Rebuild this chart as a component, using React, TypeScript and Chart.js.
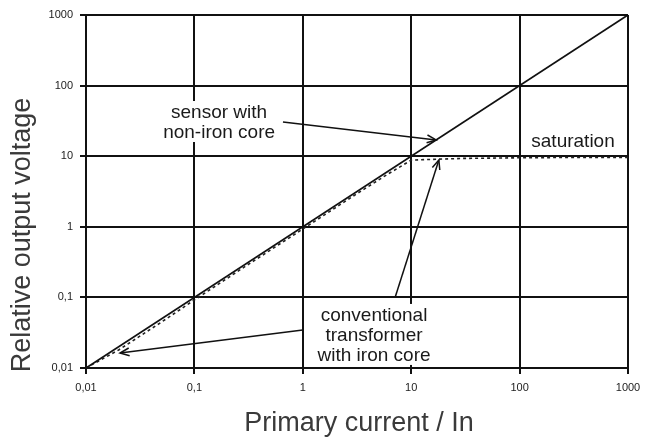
import React, { useEffect, useRef } from "react";
import { Chart, registerables } from "chart.js";

Chart.register(...registerables);

// ---- data ----
const tickValues = [0.01, 0.1, 1, 10, 100, 1000];
const tickLabels = ["0,01", "0,1", "1", "10", "100", "1000"];

const sensorX = [0.01, 1000];
const sensorY = [0.01, 1000];

const convX = [0.01, 0.02, 0.05, 0.1, 0.3, 1, 3, 6, 10, 15, 30, 100, 300, 1000];
const convY = [0.01, 0.018, 0.045, 0.092, 0.28, 0.93, 2.8, 5.5, 8.8, 9.0, 9.3, 9.5, 9.6, 9.6];

const xTitle = "Primary current / In";
const yTitle = "Relative output voltage";

const notes = [
  { lines: ["sensor with", "non-iron core"], x: 0.169, y: 40.9, box: true },
  { lines: ["saturation"], x: 311, y: 15.9, box: false },
  { lines: ["conventional", "transformer", "with iron core"], x: 4.54, y: 0.0546, box: true },
];

const arrows = [
  { from: [0.656, 30.5], to: [17, 17] },
  { from: [7.1, 0.1], to: [18, 8.83] },
  { from: [1.0, 0.0345], to: [0.0206, 0.0163] },
];

const FONT = "'Liberation Sans', Arial, Helvetica, sans-serif";

const overlay = {
  id: "overlay",
  afterDraw(chart: any) {
    const ctx = chart.ctx as CanvasRenderingContext2D;
    const xs = chart.scales.x;
    const ys = chart.scales.y;
    const P = (x: number, y: number) => [xs.getPixelForValue(x), ys.getPixelForValue(y)];
    ctx.save();
    // notes
    ctx.font = `19px ${FONT}`;
    ctx.textAlign = "center";
    ctx.textBaseline = "middle";
    const lh = 20;
    for (const n of notes) {
      const [cx, cy] = P(n.x, n.y);
      if (n.box) {
        let w = 0;
        for (const l of n.lines) w = Math.max(w, ctx.measureText(l).width);
        ctx.fillStyle = "#fff";
        ctx.fillRect(cx - w / 2 - 3, cy - 12, w + 6, lh * (n.lines.length - 1) + 21);
      }
      ctx.fillStyle = "#1a1a1a";
      n.lines.forEach((l, i) => ctx.fillText(l, cx, cy + i * lh));
    }
    // arrows
    ctx.strokeStyle = "#111";
    ctx.lineWidth = 1.5;
    for (const a of arrows) {
      const [x1, y1] = P(a.from[0], a.from[1]);
      const [x2, y2] = P(a.to[0], a.to[1]);
      ctx.beginPath();
      ctx.moveTo(x1, y1);
      ctx.lineTo(x2, y2);
      ctx.stroke();
      const ang = Math.atan2(y2 - y1, x2 - x1);
      const L = 10;
      const sp = 0.4;
      ctx.beginPath();
      ctx.moveTo(x2 - L * Math.cos(ang - sp), y2 - L * Math.sin(ang - sp));
      ctx.lineTo(x2, y2);
      ctx.lineTo(x2 - L * Math.cos(ang + sp), y2 - L * Math.sin(ang + sp));
      ctx.stroke();
    }
    // axis titles
    ctx.fillStyle = "#3a3a3a";
    ctx.font = `27px ${FONT}`;
    const area = chart.chartArea;
    ctx.fillText(xTitle, (area.left + area.right) / 2 + 2, 424);
    ctx.translate(23, 235);
    ctx.rotate(-Math.PI / 2);
    ctx.fillText(yTitle, 0, 0);
    ctx.restore();
  },
};

function logScale(axis: "x" | "y") {
  return {
    type: "logarithmic" as const,
    min: 0.01,
    max: 1000,
    afterBuildTicks: (s: any) => {
      s.ticks = tickValues.map((v) => ({ value: v, major: true }));
    },
    afterFit: (s: any) => {
      if (axis === "y") s.width = 86;
      else s.height = 69;
    },
    ticks: {
      autoSkip: false,
      maxRotation: 0,
      padding: 7,
      color: "#222",
      font: { family: FONT, size: 11 },
      callback: (_v: any, i: number) => tickLabels[i],
    },
    grid: { color: "#111", lineWidth: 2, tickLength: 6, drawTicks: true },
    border: { color: "#111", width: 2 },
  };
}

export default function App() {
  const ref = useRef<HTMLCanvasElement>(null);
  useEffect(() => {
    if (!ref.current) return;
    const chart = new Chart(ref.current, {
      type: "line",
      data: {
        datasets: [
          {
            label: "sensor",
            data: sensorX.map((x, i) => ({ x, y: sensorY[i] })),
            borderColor: "#111",
            borderWidth: 1.8,
            pointRadius: 0,
            tension: 0,
          },
          {
            label: "conventional",
            data: convX.map((x, i) => ({ x, y: convY[i] })),
            borderColor: "#222",
            borderWidth: 1.6,
            borderDash: [3, 3],
            pointRadius: 0,
            tension: 0,
          },
        ],
      },
      options: {
        animation: false,
        responsive: false,
        devicePixelRatio: 1,
        layout: { padding: { top: 15, right: 20, left: 0, bottom: 0 } },
        plugins: { legend: { display: false }, tooltip: { enabled: false } },
        scales: { x: logScale("x") as any, y: logScale("y") as any },
      },
      plugins: [overlay],
    });
    return () => chart.destroy();
  }, []);
  return (
    <div style={{ position: "absolute", left: 0, top: 0, width: 648, height: 437, background: "#fff" }}>
      <canvas ref={ref} width={648} height={437} />
    </div>
  );
}
